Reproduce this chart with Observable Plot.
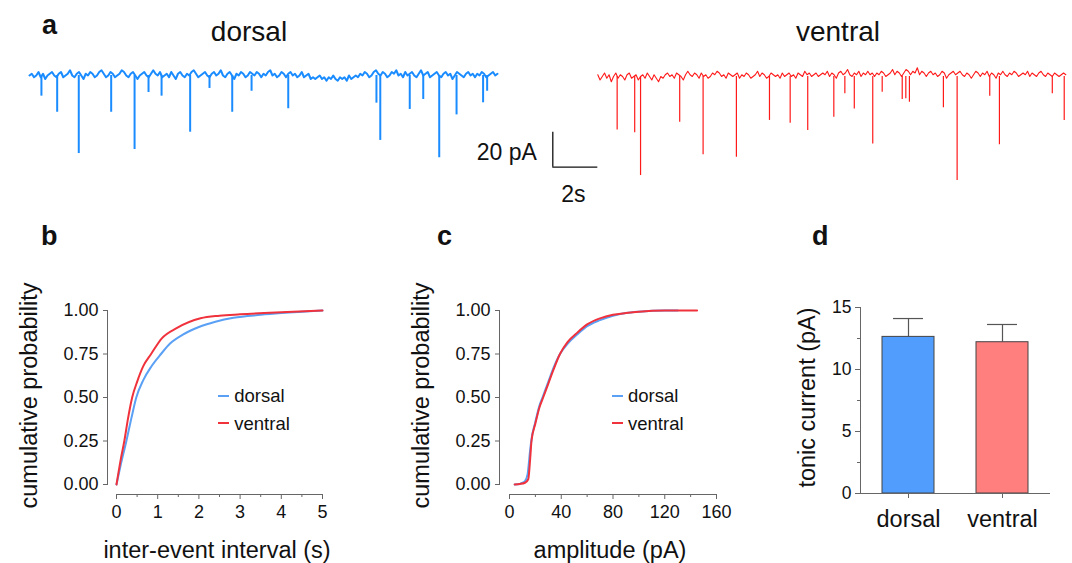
<!DOCTYPE html>
<html><head><meta charset="utf-8">
<script src="https://cdn.jsdelivr.net/npm/d3@7"></script>
<script src="https://cdn.jsdelivr.net/npm/@observablehq/plot@0.6"></script>
<style>
body{margin:0;background:#fff;}
#fig{position:relative;width:1072px;height:563px;font-family:"Liberation Sans",Arial,sans-serif;color:#111;overflow:hidden;background:#fff;}
.abs{position:absolute;line-height:1;white-space:nowrap;}
.letter{font-weight:bold;font-size:27px;}
.title{font-size:28px;width:200px;text-align:center;}
.leg{font-size:18.5px;}
.legline{position:absolute;height:2px;width:11px;}
#fig svg{position:absolute;overflow:visible;}
</style></head><body><div id="fig"></div>
<script>
// ---------- panel a: example traces (pA), baseline sampled every 0.1 s ----------
const noiseStep = 0.1;
const dorsalNoise = [
  0,1,-1,0,2,-1,1,-2,0,1, 2,0,-1,1,2,-1,0,1,3,0,
  -1,1,2,0,-2,1,0,2,1,-1, 0,2,3,1,-1,0,2,1,-1,0,
  1,3,2,0,-1,1,2,0,-2,0, 1,2,0,-1,1,3,1,0,2,-1,
  0,1,-1,2,0,-2,1,2,0,-1, 1,0,2,3,1,-1,0,1,2,0,
  -1,1,2,0,1,3,0,-1,1,2, 0,-2,1,0,2,1,-1,0,2,1,
  0,2,1,-1,1,0,2,3,0,1, -1,0,2,1,-1,1,2,0,1,-1,
  0,2,-1,0,1,-2,-1,-2,-1,0, -2,-1,-3,-1,-2,0,-2,-3,-1,-2,
  -1,-3,0,-2,-1,0,-1,1,0,2, 1,-1,0,2,3,1,0,2,1,-1,
  0,2,1,3,0,1,-1,2,0,1, 2,0,-1,1,3,0,1,2,-1,0,
  1,2,0,-1,1,2,0,1,-2,0, 2,1,0,-1,1,2,0,1,-1,1,
  0,2,1,-1,0,1,2,0,1];
const ventralNoise = [
  1,-2,0,2,-1,1,-3,0,2,-1, 1,0,-2,1,2,-1,0,1,-2,0,
  1,-1,2,0,-2,1,-1,-3,0,-1, 1,2,0,1,-1,2,1,0,-2,1,
  3,1,0,2,1,-1,2,0,1,-1, 0,2,1,3,2,0,1,-1,2,1,
  0,1,2,-1,1,0,2,1,-1,0, 1,3,0,2,1,-1,0,2,1,0,
  1,-1,2,0,1,2,0,1,-1,2, 1,0,3,1,2,0,1,2,0,1,
  2,1,3,0,2,1,-1,2,3,1, 2,4,1,0,2,1,3,0,2,1,
  3,1,2,0,2,1,3,2,0,1, 2,4,1,3,2,0,2,4,3,1,
  3,2,5,1,3,2,0,2,3,1, 2,0,1,3,2,-1,1,2,3,1,
  2,3,1,0,2,1,-1,1,3,2, 0,2,1,3,0,2,1,-1,2,1,
  3,1,0,2,1,3,2,0,1,2, 1,3,0,2,1,0,2,3,1,0,
  2,1,0,2,1,0,1,2,1];
const dorsalEventTime = [0.53,1.23,2.19,3.63,4.67,5.29,5.87,7.14,8.0,9.01,9.87,11.5,15.42,15.59,16.9,17.5,18.21,18.98,20.16,20.34];
const dorsalEventAmp  = [-11.8,-21,-44.6,-21,-42.3,-9.7,-11.8,-32.4,-7.4,-21,-9,-19,-15.8,-37.1,-19.4,-13.7,-47,-22.5,-15.6,-9];
const ventralEventTime = [0.86,1.64,1.90,3.64,4.68,6.16,7.63,8.55,9.33,10.49,10.98,11.40,12.22,12.64,13.53,13.69,13.85,15.36,15.97,17.42,17.85,20.2,20.73];
const ventralEventAmp  = [-30.5,-32.2,-56.6,-26.1,-44.7,-46.1,-25.1,-26.7,-30.9,-23.3,-9.9,-18.5,-38.5,-9,-13.1,-12.7,-14.7,-17.9,-59.4,-11.3,-39,-9.9,-25.1];
const scaleBar = {t: -2, y: -51.8, seconds: 2, pA: 20};

// ---------- panel b: inter-event interval CDF ----------
const ieiDorsalX  = [0,0.1,0.24,0.36,0.48,0.65,0.85,1.08,1.3,1.6,2.0,2.4,2.84,3.5,4,5];
const ieiDorsalP  = [0,0.11,0.25,0.38,0.5,0.6,0.68,0.75,0.81,0.86,0.905,0.935,0.958,0.975,0.985,1];
const ieiVentralX = [0,0.1,0.19,0.28,0.38,0.5,0.65,0.84,1.1,1.47,2.04,2.5,3,4,5];
const ieiVentralP = [0,0.14,0.25,0.38,0.5,0.59,0.68,0.75,0.84,0.9,0.955,0.97,0.978,0.99,1];
const ieiTicks = [0,1,2,3,4,5];
const ieiMinorTicks = [0.5,1.5,2.5,3.5,4.5];

// ---------- panel c: amplitude CDF ----------
const ampDorsalX  = [4,8,10,12,14,16,17,20,23,26,30,34,39,45,52,60,70,80,90,100,120,130];
const ampDorsalP  = [0,0.003,0.01,0.02,0.06,0.2,0.26,0.36,0.45,0.51,0.59,0.67,0.75,0.81,0.86,0.91,0.945,0.97,0.985,0.993,1,1];
const ampVentralX = [4,8,12,14.5,16,17,20,23,26,30,34,39,45,52,60,70,80,90,100,120,145];
const ampVentralP = [0,0.003,0.01,0.03,0.15,0.25,0.35,0.44,0.5,0.58,0.66,0.75,0.82,0.87,0.92,0.955,0.975,0.985,0.993,1,1];
const ampTicks = [0,40,80,120,160];
const ampMinorTicks = [20,60,100,140];
const probTicks = [0,0.25,0.5,0.75,1];

// ---------- panel d: tonic current ----------
const groups = ["dorsal","ventral"];
const tonicMean = [12.63,12.2];
const tonicSem  = [1.48,1.43];
const tonicTicks = [0,5,10,15];
const tonicMinorTicks = [2.5,7.5,12.5];

const traceBlue = "#1a8cff", traceRed = "#ff1a1a";
const curveBlue = "#5aa0f5", curveRed = "#f0323c";
const barBlue = "#519dfd", barRed = "#ff7f7f";
const axisColor = "#666";
const fontFamily = '"Liberation Sans", Arial, sans-serif';
const baseStyle = {background:"transparent", overflow:"visible", fontFamily, color:"#111"};

const fig = document.getElementById("fig");
function place(el, left, top){ el.style.left = left+"px"; el.style.top = top+"px"; fig.appendChild(el); }
function html(cls, text, left, top, extra){
  const d = document.createElement("div"); d.className = "abs "+cls; d.textContent = text;
  d.style.left = left+"px"; d.style.top = top+"px"; if (extra) Object.assign(d.style, extra); fig.appendChild(d); return d;
}

// ----- traces -----
function trace(noise, evT, evA, color, lw, sw, width, xdom, ydom, extra){
  const line = noise.map((v,i)=>({t:i*noiseStep, v}));
  const ev = evT.map((t,i)=>({t, amp: evA[i]}));
  return Plot.plot({
    width, height:150, margin:0,
    x:{domain:xdom, axis:null}, y:{domain:ydom, axis:null},
    style: baseStyle,
    marks:[
      Plot.ruleX(ev, {x:"t", y1:0, y2:"amp", stroke:color, strokeWidth:sw}),
      Plot.line(line, {x:"t", y:"v", stroke:color, strokeWidth:lw}),
      ...(extra||[])
    ]
  });
}
place(trace(dorsalNoise, dorsalEventTime, dorsalEventAmp, traceBlue, 2, 2, 520,
  [-29/22.5, (520-29)/22.5], [-(200-75)/1.75, (75-50)/1.75]), 0, 50);

const sbMarks = [
  Plot.ruleY([scaleBar.y], {x1:scaleBar.t, x2:scaleBar.t+scaleBar.seconds, stroke:"#111", strokeWidth:1.3}),
  Plot.ruleX([scaleBar.t], {y1:scaleBar.y, y2:scaleBar.y+scaleBar.pA, stroke:"#111", strokeWidth:1.3}),
  Plot.text([scaleBar.pA+" pA"], {x:scaleBar.t, y:scaleBar.y+scaleBar.pA/2, dx:-16, dy:3, textAnchor:"end", lineAnchor:"middle", fontSize:23, fill:"#111"}),
  Plot.text([scaleBar.seconds+"s"], {x:scaleBar.t+scaleBar.seconds/2, y:scaleBar.y, dx:-2, dy:27, lineAnchor:"middle", fontSize:23, fill:"#111"})
];
place(trace(ventralNoise, ventralEventTime, ventralEventAmp, traceRed, 1.1, 1.2, 552,
  [(520-597.3)/22.5, (1072-597.3)/22.5], [-(200-76)/1.75, (76-50)/1.75], sbMarks), 520, 50);

// ----- CDF panels -----
function cdf(dX,dP,vX,vP, opts){
  const d = dX.map((x,i)=>({x, p:dP[i]})), v = vX.map((x,i)=>({x, p:vP[i]}));
  return Plot.plot({
    width:340, height:283, marginLeft:opts.ml, marginRight:opts.mr, marginTop:30, marginBottom:69,
    insetLeft:opts.il, insetBottom:10,
    x:{domain:opts.xdom}, y:{domain:[0,1]},
    style: baseStyle,
    marks:[
      Plot.frame({anchor:"left", insetBottom:10, stroke:axisColor}),
      Plot.frame({anchor:"bottom", insetLeft:opts.il, stroke:axisColor}),
      Plot.axisY({ticks:probTicks, tickFormat:d3.format(".2f"), tickSize:4, tickPadding:5, fontSize:18, stroke:axisColor, label:null}),
      Plot.axisX({ticks:opts.ticks, tickFormat:d3.format("d"), tickSize:5, tickPadding:6, fontSize:18, stroke:axisColor, label:null}),
      Plot.axisX({ticks:opts.minor, tickSize:3, tickFormat:()=>"", stroke:axisColor, label:null}),
      Plot.line(d, {x:"x", y:"p", stroke:curveBlue, strokeWidth:2, curve:"monotone-x"}),
      Plot.line(v, {x:"x", y:"p", stroke:curveRed, strokeWidth:2, curve:"monotone-x"}),
      Plot.text([opts.xlabel], {frameAnchor:"bottom", dx:2, dy:56, textAnchor:"middle", lineAnchor:"middle", fontSize:23.5}),
      Plot.text(["cumulative probability"], {frameAnchor:"left", rotate:-90, dx:-78, dy:-7, textAnchor:"middle", lineAnchor:"middle", fontSize:23.5})
    ]
  });
}
place(cdf(ieiDorsalX, ieiDorsalP, ieiVentralX, ieiVentralP,
  {ml:107, mr:18, il:9, xdom:[0,5], ticks:ieiTicks, minor:ieiMinorTicks, xlabel:"inter-event interval (s)"}), 0, 280);
place(cdf(ampDorsalX, ampDorsalP, ampVentralX, ampVentralP,
  {ml:99, mr:24, il:10, xdom:[0,160], ticks:ampTicks, minor:ampMinorTicks, xlabel:"amplitude (pA)"}), 400, 280);

// ----- bar panel -----
const tonic = groups.map((g,i)=>({group:g, mean:tonicMean[i], top:tonicMean[i]+tonicSem[i], color: i===0?barBlue:barRed}));
place(Plot.plot({
  width:292, height:283, marginLeft:80, marginRight:23, marginTop:27, marginBottom:70,
  x:{domain:groups, paddingInner:0.45, paddingOuter:0.225}, y:{domain:[0,15]},
  color:{type:"identity"},
  style: baseStyle,
  marks:[
    Plot.ruleX(tonic, {x:"group", y1:"mean", y2:"top", stroke:"#555", strokeWidth:1.2}),
    Plot.tickY(tonic, {x:"group", y:"top", insetLeft:11, insetRight:11, stroke:"#555", strokeWidth:1.2}),
    Plot.barY(tonic, {x:"group", y:"mean", fill:"color", stroke:"#444", strokeWidth:1}),
    Plot.frame({anchor:"left", stroke:axisColor}),
    Plot.frame({anchor:"bottom", stroke:axisColor}),
    Plot.axisY({ticks:tonicTicks, tickSize:5, tickPadding:4, fontSize:17.5, stroke:axisColor, label:null}),
    Plot.axisY({ticks:tonicMinorTicks, tickSize:3, tickFormat:()=>"", stroke:axisColor, label:null}),
    Plot.axisX({tickSize:5, tickPadding:12, fontSize:23.5, stroke:axisColor, label:null}),
    Plot.text(["tonic current (pA)"], {frameAnchor:"left", rotate:-90, dx:-53, dy:-3, textAnchor:"middle", lineAnchor:"middle", fontSize:23.5})
  ]
}), 780, 280);

// ----- HTML titles, letters, legends -----
html("letter","a",42,12);
html("letter","b",41,223);
html("letter","c",437,223);
html("letter","d",812,223);
html("title","dorsal",149,18);
html("title","ventral",738,18);
function legend(lineLeft, textLeft){
  [[groups[0], curveBlue, 395.7, 387.4],[groups[1], curveRed, 423.3, 415.3]].forEach(([g,c,ly,ty])=>{
    const l = document.createElement("div"); l.className="legline"; l.style.background=c;
    l.style.left=lineLeft+"px"; l.style.top=(ly-1)+"px"; fig.appendChild(l);
    html("leg", g, textLeft, ty);
  });
}
legend(217.5, 234.3);
legend(611.7, 628);
</script></body></html>
